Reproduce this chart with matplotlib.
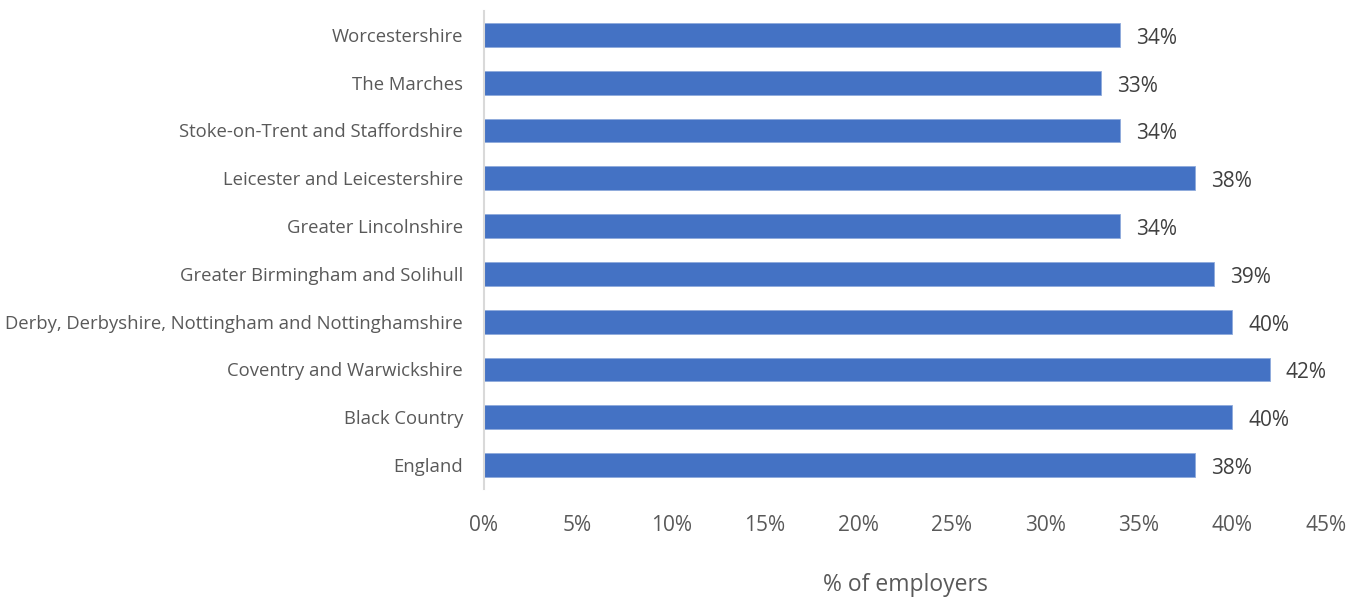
import matplotlib
matplotlib.use("Agg")
import matplotlib.pyplot as plt
from matplotlib.ticker import FuncFormatter, MultipleLocator

plt.rcParams['font.family'] = ['Open Sans', 'DejaVu Sans']

regions = [
    "Worcestershire",
    "The Marches",
    "Stoke-on-Trent and Staffordshire",
    "Leicester and Leicestershire",
    "Greater Lincolnshire",
    "Greater Birmingham and Solihull",
    "Derby, Derbyshire, Nottingham and Nottinghamshire",
    "Coventry and Warwickshire",
    "Black Country",
    "England",
]
share_pct = [34, 33, 34, 38, 34, 39, 40, 42, 40, 38]

bar_color = "#4472C4"
text_grey = "#595959"

fig = plt.figure(figsize=(13.58, 5.97), dpi=100)
ax = fig.add_axes([0.3564, 0.1809, 0.62, 0.8007])

n = len(regions)
ypos = [n - 1 - i for i in range(n)]
ax.barh(ypos, share_pct, height=0.5, color=bar_color, edgecolor="#8FAADC", linewidth=0.6)

for y, v in zip(ypos, share_pct):
    ax.text(v + 0.85, y - 0.07, f"{v}%", va="center", ha="left", fontsize=15, color="#404040")

ax.set_yticks(ypos)
ax.set_yticklabels(regions, fontsize=13.3, color=text_grey)
ax.set_ylim(-0.5, n - 0.5)
ax.set_xlim(0, 45)
ax.xaxis.set_major_locator(MultipleLocator(5))
ax.xaxis.set_major_formatter(FuncFormatter(lambda x, p: f"{int(round(x))}%"))
ax.tick_params(axis="x", labelsize=15, labelcolor=text_grey, length=0, pad=19)
ax.tick_params(axis="y", length=0, pad=15)

for s in ["top", "right", "bottom"]:
    ax.spines[s].set_visible(False)
ax.spines["left"].set_color("#D9D9D9")
ax.spines["left"].set_linewidth(1.5)

ax.set_xlabel("% of employers", fontsize=16.5, color=text_grey, labelpad=26)

fig.savefig("out.png", dpi=100)
